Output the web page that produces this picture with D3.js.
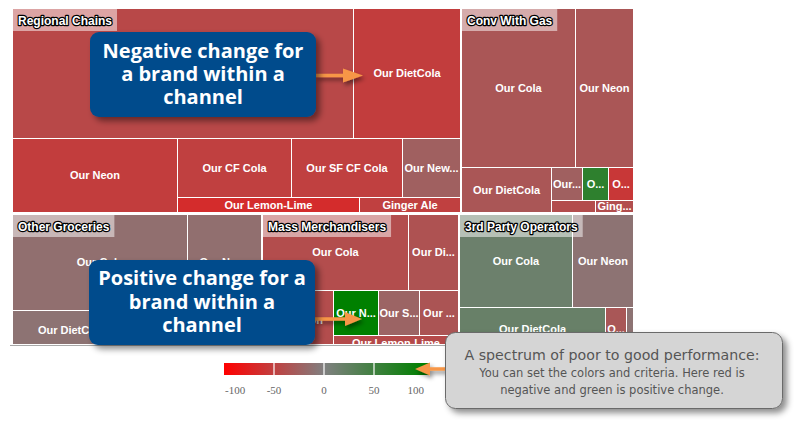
<!DOCTYPE html>
<html>
<head>
<meta charset="utf-8">
<script src="https://cdn.jsdelivr.net/npm/d3@7/dist/d3.min.js"></script>
<style>
body { margin: 0; background: #fff; }
</style>
</head>
<body>
<div id="chart"></div>
<script>
// channels (outer boxes)
var channels = ["Regional Chains", "Conv With Gas", "Other Groceries", "Mass Merchandisers", "3rd Party Operators"];

// brands within each channel: size = sales, colour = % change
var regionalBrands = ["Our Cola", "Our DietCola", "Our Neon", "Our CF Cola", "Our SF CF Cola", "Our New Age", "Our Lemon-Lime", "Ginger Ale"];
var regionalSales  = [439, 138, 121, 67, 65, 34, 27, 15];
var regionalChange = [-44, -52, -52, -50, -50, -25, -66, -50];

var convBrands = ["Our Cola", "Our Neon", "Our DietCola", "Our CF Cola", "Our New Age", "Our SF CF Cola", "", "Ginger Ale"];
var convSales  = [181, 91, 41, 10.3, 8.6, 8.2, 5.5, 4.7];
var convChange = [-33, -33, -33, -25, 64, -57, -40, -39];

var otherBrands = ["Our Cola", "Our Neon", "Our DietCola", "Our CF Cola", "Our Lemon-Lime"];
var otherSales  = [167, 71, 47, 27.5, 24.5];
var otherChange = [-13, -13, -10, -12, -14];

var massBrands = ["Our Cola", "Our DietCola", "Our Neon", "Our New Age", "Our SF CF Cola", "Our CF Cola", "Our Lemon-Lime"];
var massSales  = [110.6, 37.4, 42.2, 20.1, 18.3, 17.4, 19.0];
var massChange = [-40, -36, -40, 100, -22, -34, -42];

var thirdBrands = ["Our Cola", "Our Neon", "Our DietCola", "Our CF Cola", "Our Lemon-Lime"];
var thirdSales  = [105, 57, 62, 9, 3];
var thirdChange = [16, -10, 19, -32, -10];

var brandLists  = [regionalBrands, convBrands, otherBrands, massBrands, thirdBrands];
var salesLists  = [regionalSales, convSales, otherSales, massSales, thirdSales];
var changeLists = [regionalChange, convChange, otherChange, massChange, thirdChange];

// nesting of the cells: rows and columns alternate with depth
var channelRows = [[0, 1], [2, 3, 4]];
var cellGroups = [
	[[0, 1], [2, [[3, 4, 5], [6, 7]]]],
	[[0, 1], [2, [[3, 4, 5], [6, 7]]]],
	[[0, 1], [2, 3, 4]],
	[[0, 1], [2, [[3, 4, 5], [6]]]],
	[[0, 1], [2, 3, 4]]
];

var legendTicks = [-100, -50, 0, 50, 100];

var W = 809, H = 425;
var svg = d3.select("#chart").append("svg")
	.attr("width", W)
	.attr("height", H)
	.style("font-family", "'Liberation Sans', Arial, sans-serif");

var defs = svg.append("defs");
var shadow = defs.append("filter").attr("id", "shadow")
	.attr("x", "-10%").attr("y", "-10%").attr("width", "130%").attr("height", "140%");
shadow.append("feDropShadow").attr("dx", 4).attr("dy", 4).attr("stdDeviation", 3)
	.attr("flood-color", "#000").attr("flood-opacity", 0.45);
var smallShadow = defs.append("filter").attr("id", "smallShadow")
	.attr("x", "-20%").attr("y", "-50%").attr("width", "150%").attr("height", "250%");
smallShadow.append("feDropShadow").attr("dx", 2).attr("dy", 3).attr("stdDeviation", 2)
	.attr("flood-color", "#000").attr("flood-opacity", 0.45);

// colour: red (poor) -> grey -> green (good)
var color = d3.scaleLinear()
	.domain([-100, 0, 100])
	.range(["#ff0000", "#808080", "#008000"])
	.clamp(true);

// build the hierarchy
function build(spec, c) {
	if (typeof spec === "number") {
		return { name: brandLists[c][spec], sales: salesLists[c][spec], change: changeLists[c][spec] };
	}
	return { children: spec.map(function (s) { return build(s, c); }) };
}

var data = {
	children: channelRows.map(function (row) {
		return {
			children: row.map(function (c) {
				return { channel: channels[c], children: cellGroups[c].map(function (s) { return build(s, c); }) };
			})
		};
	})
};

var root = d3.hierarchy(data).sum(function (d) { return d.children ? 0 : d.sales; });

// even depth stacks children top to bottom, odd depth lays them side by side
function tile(node, x0, y0, x1, y1) {
	(node.depth % 2 === 0 ? d3.treemapSlice : d3.treemapDice)(node, x0, y0, x1, y1);
}

var tmW = 620, tmH = 341;
d3.treemap()
	.size([tmW, tmH])
	.tile(tile)
	.paddingInner(function (d) { return d.depth === 0 ? 3 : d.depth === 1 ? 2 : 1; })
	.round(true)(root);

defs.append("clipPath").attr("id", "tmClip")
	.append("rect").attr("x", 0).attr("y", 0).attr("width", tmW).attr("height", 335);

var tm = svg.append("g")
	.attr("transform", "translate(13,9)")
	.attr("clip-path", "url(#tmClip)");

var leaves = root.leaves();

tm.selectAll("rect.cell")
	.data(leaves)
	.join("rect")
	.attr("class", "cell")
	.attr("x", function (d) { return d.x0; })
	.attr("y", function (d) { return d.y0; })
	.attr("width", function (d) { return d.x1 - d.x0; })
	.attr("height", function (d) { return d.y1 - d.y0; })
	.attr("fill", function (d) { return color(d.data.change); });

// labels, cut to "..." when they do not fit
tm.selectAll("text.cellLabel")
	.data(leaves.filter(function (d) { return d.data.name; }))
	.join("text")
	.attr("class", "cellLabel")
	.attr("x", function (d) { return (d.x0 + d.x1) / 2; })
	.attr("y", function (d) { return (d.y0 + d.y1) / 2; })
	.attr("dy", "0.36em")
	.attr("text-anchor", "middle")
	.attr("fill", "#fff")
	.style("font-size", "11px")
	.style("font-weight", "bold")
	.each(function (d) {
		var t = d3.select(this), name = d.data.name;
		var avail = d.x1 - d.x0 - 0.8;
		t.text(name);
		if (this.getComputedTextLength() <= avail) return;
		for (var n = name.length - 1; n > 0; n--) {
			t.text(name.slice(0, n) + "...");
			if (this.getComputedTextLength() <= avail) return;
		}
		t.text("");
	});

// channel headers
var heads = tm.selectAll("g.head")
	.data(root.descendants().filter(function (d) { return d.depth === 2; }))
	.join("g")
	.attr("class", "head")
	.attr("transform", function (d) { return "translate(" + d.x0 + "," + d.y0 + ")"; });

heads.append("rect").attr("height", 22).attr("fill", "#fff").attr("fill-opacity", 0.5);
heads.append("text")
	.attr("x", 5)
	.attr("y", 15.5)
	.attr("fill", "#fff")
	.attr("stroke", "#000")
	.attr("stroke-width", 2.4)
	.attr("stroke-linejoin", "round")
	.attr("paint-order", "stroke")
	.style("font-size", "12px")
	.style("font-weight", "bold")
	.text(function (d) { return d.data.channel; });
heads.each(function () {
	var g = d3.select(this);
	g.select("rect").attr("width", g.select("text").node().getComputedTextLength() + 10);
});

// container bottom edge
svg.append("line")
	.attr("x1", 10).attr("x2", 640).attr("y1", 345.5).attr("y2", 345.5)
	.attr("stroke", "#a8a8a8").attr("stroke-width", 1);

// legend
var lx = d3.scaleLinear().domain([-100, 100]).range([224, 424]);
var grad = defs.append("linearGradient").attr("id", "legendGrad")
	.attr("gradientUnits", "userSpaceOnUse")
	.attr("x1", lx(-100)).attr("x2", lx(100)).attr("y1", 0).attr("y2", 0);
legendTicks.forEach(function (v) {
	grad.append("stop").attr("offset", (v + 100) / 200).attr("stop-color", color(v));
});
var legend = svg.append("g");
legend.append("rect")
	.attr("x", lx(-100)).attr("y", 363)
	.attr("width", 429 - lx(-100)).attr("height", 12)
	.attr("fill", "url(#legendGrad)");
legend.selectAll("line.div")
	.data(legendTicks.slice(1, -1))
	.join("line")
	.attr("class", "div")
	.attr("x1", function (d) { return lx(d); }).attr("x2", function (d) { return lx(d); })
	.attr("y1", 363).attr("y2", 375)
	.attr("stroke", "#fff").attr("stroke-width", 1.2);
legend.selectAll("text")
	.data(legendTicks)
	.join("text")
	.attr("x", function (d, i) { return lx(d) + (i === 0 ? 1 : 0); })
	.attr("y", 394)
	.attr("text-anchor", function (d, i) { return i === 0 ? "start" : i === legendTicks.length - 1 ? "end" : "middle"; })
	.attr("fill", "#666")
	.style("font-family", "'Liberation Serif', 'Times New Roman', serif")
	.style("font-size", "11px")
	.text(function (d) { return d; });

// arrows
function arrow(x1, x2, y, w, headLen, headW) {
	var dir = x2 > x1 ? 1 : -1;
	var xb = x2 - dir * headLen;
	var p = d3.path();
	p.moveTo(x1, y - w / 2);
	p.lineTo(xb, y - w / 2);
	p.lineTo(xb, y - headW / 2);
	p.lineTo(x2, y);
	p.lineTo(xb, y + headW / 2);
	p.lineTo(xb, y + w / 2);
	p.lineTo(x1, y + w / 2);
	p.closePath();
	svg.append("path").attr("d", p.toString())
		.attr("fill", "#f79646")
		.attr("filter", "url(#smallShadow)");
}

// blue callouts
function callout(x, y, w, h, lines, baselines) {
	var g = svg.append("g");
	g.append("rect")
		.attr("x", x).attr("y", y).attr("width", w).attr("height", h)
		.attr("rx", 9)
		.attr("fill", "#054b8c")
		.attr("filter", "url(#shadow)");
	g.selectAll("text")
		.data(lines)
		.join("text")
		.attr("x", x + w / 2)
		.attr("y", function (d, i) { return baselines[i]; })
		.attr("text-anchor", "middle")
		.attr("fill", "#fff")
		.style("font-family", "'Open Sans', sans-serif")
		.style("font-weight", "bold")
		.style("font-size", "20px")
		.text(function (d) { return d; });
}

arrow(316, 363, 75.5, 3.5, 20, 14);
callout(90, 32, 226, 85, ["Negative change for", "a brand within a", "channel"], [58, 81, 104]);

arrow(312, 362, 319, 3.5, 17, 14);
callout(89, 260, 226, 85, ["Positive change for a", "brand within a", "channel"], [285, 309, 332]);

// grey note with arrow to the legend
arrow(450, 415, 369, 3.5, 15, 13);
var note = svg.append("g");
note.append("rect")
	.attr("x", 445.5).attr("y", 332.5).attr("width", 337).attr("height", 76)
	.attr("rx", 10)
	.attr("fill", "#d5d5d5")
	.attr("stroke", "#6a6a6a")
	.attr("stroke-width", 1)
	.attr("filter", "url(#shadow)");
note.append("text")
	.attr("x", 612).attr("y", 360)
	.attr("text-anchor", "middle")
	.attr("fill", "#555")
	.style("font-family", "'DejaVu Sans', sans-serif")
	.style("font-size", "14.2px")
	.text("A spectrum of poor to good performance:");
note.selectAll("text.small")
	.data(["You can set the colors and criteria. Here red is", "negative and green is positive change."])
	.join("text")
	.attr("class", "small")
	.attr("x", 612)
	.attr("y", function (d, i) { return 377 + i * 17; })
	.attr("text-anchor", "middle")
	.attr("fill", "#555")
	.style("font-family", "'DejaVu Sans', sans-serif")
	.style("font-size", "11.5px")
	.text(function (d) { return d; });
</script>
</body>
</html>
